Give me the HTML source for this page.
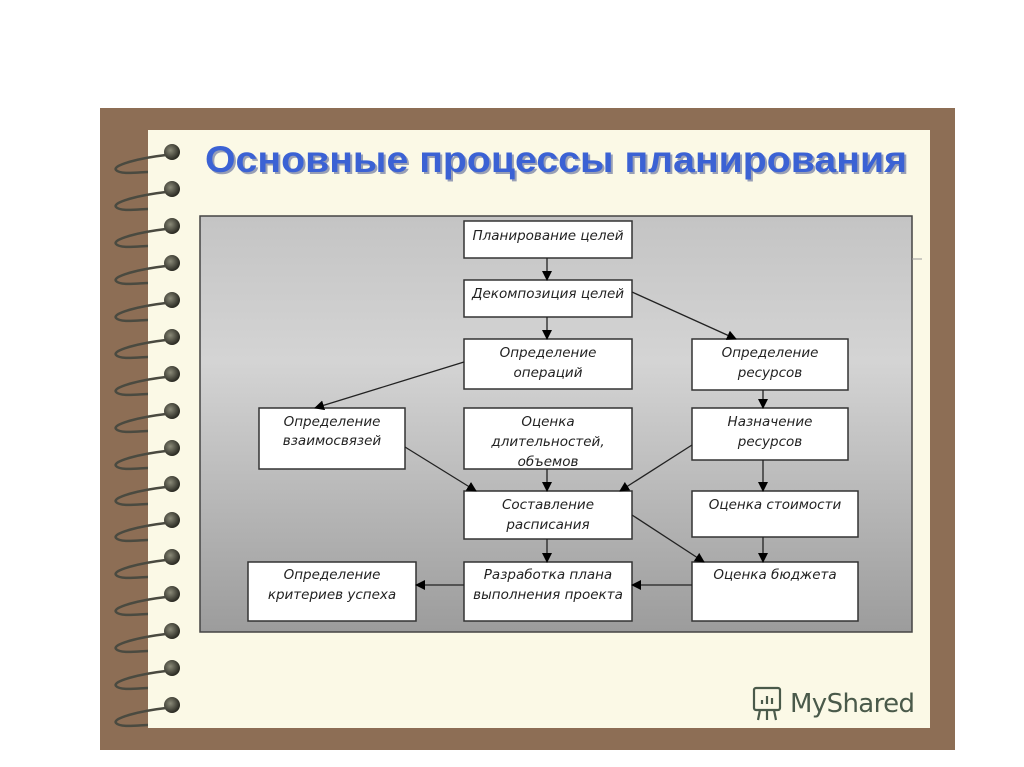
<!DOCTYPE html>
<html><head><meta charset="utf-8"><style>
html,body{margin:0;padding:0;background:#fff;}
svg{display:block;}
</style></head><body>
<svg width="1024" height="767" viewBox="0 0 1024 767" xmlns="http://www.w3.org/2000/svg">
<defs>
<linearGradient id="g" x1="0" y1="0" x2="0" y2="1">
<stop offset="0" stop-color="#c4c4c4"/>
<stop offset="0.35" stop-color="#d4d4d4"/>
<stop offset="1" stop-color="#9c9c9c"/>
</linearGradient>
<radialGradient id="hole" cx="0.4" cy="0.4" r="0.6">
<stop offset="0" stop-color="#8a8a78"/>
<stop offset="1" stop-color="#2a2a22"/>
</radialGradient>
<marker id="a" markerWidth="10" markerHeight="10" refX="9" refY="5" orient="auto" markerUnits="userSpaceOnUse">
<path d="M0,0 L10,5 L0,10 z" fill="#000"/>
</marker>
</defs>
<rect x="100" y="108" width="855" height="642" fill="#8d6e55"/>
<rect x="148" y="130" width="782" height="598" fill="#fbf9e6"/>
<g fill="url(#hole)" stroke="none">
<circle cx="172" cy="152" r="8"/><circle cx="172" cy="189" r="8"/><circle cx="172" cy="226" r="8"/><circle cx="172" cy="263" r="8"/>
<circle cx="172" cy="300" r="8"/><circle cx="172" cy="337" r="8"/><circle cx="172" cy="374" r="8"/><circle cx="172" cy="411" r="8"/>
<circle cx="172" cy="448" r="8"/><circle cx="172" cy="484" r="8"/><circle cx="172" cy="520" r="8"/><circle cx="172" cy="557" r="8"/>
<circle cx="172" cy="594" r="8"/><circle cx="172" cy="631" r="8"/><circle cx="172" cy="668" r="8"/><circle cx="172" cy="705" r="8"/>
</g>
<g fill="none" stroke="#4a4a40" stroke-width="2.5">
<path d="M166,155 C140,158 112,165 116,170 C120,175 140,172 148,172"/>
<path d="M166,192 C140,195 112,202 116,207 C120,212 140,209 148,209"/>
<path d="M166,229 C140,232 112,239 116,244 C120,249 140,246 148,246"/>
<path d="M166,266 C140,269 112,276 116,281 C120,286 140,283 148,283"/>
<path d="M166,303 C140,306 112,313 116,318 C120,323 140,320 148,320"/>
<path d="M166,340 C140,343 112,350 116,355 C120,360 140,357 148,357"/>
<path d="M166,377 C140,380 112,387 116,392 C120,397 140,394 148,394"/>
<path d="M166,414 C140,417 112,424 116,429 C120,434 140,431 148,431"/>
<path d="M166,451 C140,454 112,461 116,466 C120,471 140,468 148,468"/>
<path d="M166,487 C140,490 112,497 116,502 C120,507 140,504 148,504"/>
<path d="M166,523 C140,526 112,533 116,538 C120,543 140,540 148,540"/>
<path d="M166,560 C140,563 112,570 116,575 C120,580 140,577 148,577"/>
<path d="M166,597 C140,600 112,607 116,612 C120,617 140,614 148,614"/>
<path d="M166,634 C140,637 112,644 116,649 C120,654 140,651 148,651"/>
<path d="M166,671 C140,674 112,681 116,686 C120,691 140,688 148,688"/>
<path d="M166,708 C140,711 112,718 116,723 C120,728 140,725 148,725"/>
</g>
<text x="207" y="174" font-family="Liberation Sans, sans-serif" font-weight="bold" font-size="37" fill="#22337a" opacity="0.45" textLength="702" lengthAdjust="spacingAndGlyphs">Основные процессы планирования</text>
<text x="205" y="172" font-family="Liberation Sans, sans-serif" font-weight="bold" font-size="37" fill="#3b62d4" textLength="702" lengthAdjust="spacingAndGlyphs">Основные процессы планирования</text>
<rect x="200" y="216" width="712" height="416" fill="url(#g)" stroke="#444" stroke-width="1.5"/>
<line x1="912" y1="259" x2="922" y2="259" stroke="#999"/>
<g fill="#fff" stroke="#333" stroke-width="1.5">
<rect x="464" y="221" width="168" height="37"/>
<rect x="464" y="280" width="168" height="37"/>
<rect x="464" y="339" width="168" height="50"/>
<rect x="692" y="339" width="156" height="51"/>
<rect x="259" y="408" width="146" height="61"/>
<rect x="464" y="408" width="168" height="61"/>
<rect x="692" y="408" width="156" height="52"/>
<rect x="464" y="491" width="168" height="48"/>
<rect x="692" y="491" width="166" height="46"/>
<rect x="248" y="562" width="168" height="59"/>
<rect x="464" y="562" width="168" height="59"/>
<rect x="692" y="562" width="166" height="59"/>
</g>
<g stroke="#222" stroke-width="1.3" marker-end="url(#a)">
<line x1="547" y1="258" x2="547" y2="280"/>
<line x1="547" y1="317" x2="547" y2="339"/>
<line x1="632" y1="292" x2="736" y2="339"/>
<line x1="464" y1="362" x2="315" y2="408"/>
<line x1="547" y1="469" x2="547" y2="491"/>
<line x1="405" y1="447" x2="476" y2="491"/>
<line x1="692" y1="445" x2="620" y2="491"/>
<line x1="763" y1="390" x2="763" y2="408"/>
<line x1="763" y1="460" x2="763" y2="491"/>
<line x1="632" y1="515" x2="704" y2="562"/>
<line x1="763" y1="537" x2="763" y2="562"/>
<line x1="547" y1="539" x2="547" y2="562"/>
<line x1="692" y1="585" x2="632" y2="585"/>
<line x1="464" y1="585" x2="416" y2="585"/>
</g>
<g font-family="DejaVu Sans, sans-serif" font-style="italic" font-size="13.5" fill="#222" text-anchor="middle">
<text x="548" y="240">Планирование целей</text>
<text x="548" y="298">Декомпозиция целей</text>
<text x="548" y="357">Определение</text><text x="548" y="377">операций</text>
<text x="770" y="357">Определение</text><text x="770" y="377">ресурсов</text>
<text x="332" y="426">Определение</text><text x="332" y="445">взаимосвязей</text>
<text x="548" y="426">Оценка</text><text x="548" y="446">длительностей,</text><text x="548" y="466">объемов</text>
<text x="770" y="426">Назначение</text><text x="770" y="446">ресурсов</text>
<text x="548" y="509">Составление</text><text x="548" y="529">расписания</text>
<text x="775" y="509">Оценка стоимости</text>
<text x="332" y="579">Определение</text><text x="332" y="599">критериев успеха</text>
<text x="548" y="579">Разработка плана</text><text x="548" y="599">выполнения проекта</text>
<text x="775" y="579">Оценка бюджета</text>
</g>
<g stroke="#4a5a4a" stroke-width="2.2" fill="none">
<rect x="754" y="688" width="26" height="22" rx="2"/>
<line x1="760" y1="710" x2="758" y2="720"/><line x1="767" y1="710" x2="767" y2="720"/><line x1="774" y1="710" x2="776" y2="720"/>
<line x1="762" y1="704" x2="762" y2="700"/><line x1="767" y1="704" x2="767" y2="696"/><line x1="772" y1="704" x2="772" y2="698"/>
</g>
<text x="790" y="712" font-family="DejaVu Sans, sans-serif" font-size="26" fill="#4a5a4a" textLength="125">MyShared</text>
</svg>
</body></html>
